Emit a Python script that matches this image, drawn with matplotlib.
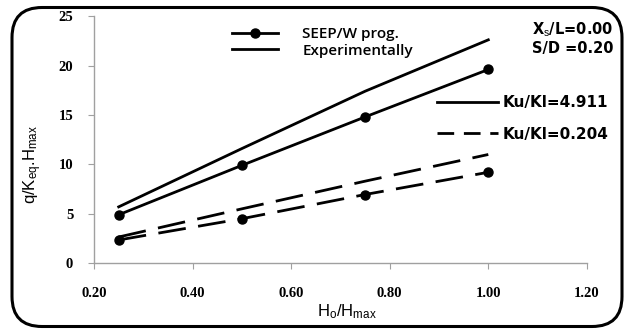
import matplotlib
matplotlib.use('Agg')
import matplotlib.pyplot as plt
from matplotlib.lines import Line2D
from matplotlib.patches import FancyBboxPatch

plt.rcParams['mathtext.fontset'] = 'custom'
plt.rcParams['mathtext.rm'] = 'Liberation Sans'
plt.rcParams['mathtext.it'] = 'Liberation Sans'

h_ratio = [0.25, 0.50, 0.75, 1.00]
seep_high = [4.9, 9.9, 14.8, 19.6]     # Ku/Kl = 4.911
exp_high = [5.7, 11.6, 17.4, 22.6]
seep_low = [2.35, 4.5, 6.95, 9.2]      # Ku/Kl = 0.204
exp_low = [2.65, 5.5, 8.3, 11.0]

xticks = [0.2, 0.4, 0.6, 0.8, 1.0, 1.2]
yticks = [0, 5, 10, 15, 20, 25]

fig = plt.figure(figsize=(6.27, 3.29), dpi=100)
ax = fig.add_axes([0.150, 0.200, 0.786, 0.751])

lw = 2.0
ax.plot(h_ratio, exp_high, color='black', lw=lw)
ax.plot(h_ratio, seep_high, color='black', lw=lw, marker='o', ms=6.5)
ax.plot(h_ratio, exp_low, color='black', lw=lw, dashes=(10, 4.5))
ax.plot(h_ratio, seep_low, color='black', lw=lw, dashes=(10, 4.5), marker='o', ms=6.5)

ax.set_xlim(0.2, 1.2)
ax.set_ylim(0, 25)
ax.set_xticks(xticks)
ax.set_yticks(yticks)
ax.set_xticklabels(['%.2f' % v for v in xticks])
ax.set_yticklabels([str(v) for v in yticks])
for s in ['top', 'right']:
    ax.spines[s].set_visible(False)
for s in ['left', 'bottom']:
    ax.spines[s].set_color('#a0a0a0')
    ax.spines[s].set_linewidth(1.0)
ax.tick_params(axis='both', direction='out', length=4, color='#a0a0a0')
ax.tick_params(axis='x', pad=13)
ax.tick_params(axis='y', pad=11)
for lab in ax.get_xticklabels() + ax.get_yticklabels():
    lab.set_family('Liberation Serif')
    lab.set_fontweight('bold')
    lab.set_fontsize(10.5)

fig.text(0.553, 0.052, r'H$_\mathrm{o}$/H$_\mathrm{max}$', ha='center', va='center',
         family='Liberation Sans', fontsize=12)
fig.text(0.052, 0.50, r'q/K$_\mathrm{eq}$.H$_\mathrm{max}$', ha='center', va='center',
         rotation=90, family='Liberation Sans', fontsize=12)

h1 = [Line2D([], [], color='black', lw=lw, marker='o', ms=6.5),
      Line2D([], [], color='black', lw=lw)]
leg1 = ax.legend(h1, ['SEEP/W prog.', 'Experimentally'], loc='upper left',
                 bbox_to_anchor=(0.252, 1.01), frameon=False, handlelength=3.0,
                 handletextpad=1.6, labelspacing=0.15,
                 prop={'family': 'Open Sans', 'weight': 'semibold', 'size': 11})
ax.add_artist(leg1)

h2 = [Line2D([], [], color='black', lw=lw),
      Line2D([], [], color='black', lw=lw, dashes=(6, 3.5))]
ax.legend(h2, ['Ku/Kl=4.911', 'Ku/Kl=0.204'], loc='upper left',
          bbox_to_anchor=(0.668, 0.737), frameon=False, handlelength=4.0,
          handletextpad=0.3, labelspacing=1.1,
          prop={'family': 'DejaVu Sans', 'weight': 'bold', 'size': 11})

fig.text(0.978, 0.908, r'X$_\mathrm{s}$/L=0.00', ha='right', va='center',
         family='DejaVu Sans', fontweight='bold', fontsize=10.5)
fig.text(0.978, 0.853, 'S/D =0.20', ha='right', va='center',
         family='DejaVu Sans', fontweight='bold', fontsize=10.5)

border = FancyBboxPatch((0.12, 0.025), 6.10, 3.19,
                        boxstyle='round,pad=0,rounding_size=0.3',
                        transform=fig.dpi_scale_trans, fill=False,
                        edgecolor='black', lw=2.2)
fig.patches.append(border)

fig.savefig('out.png', dpi=100)
